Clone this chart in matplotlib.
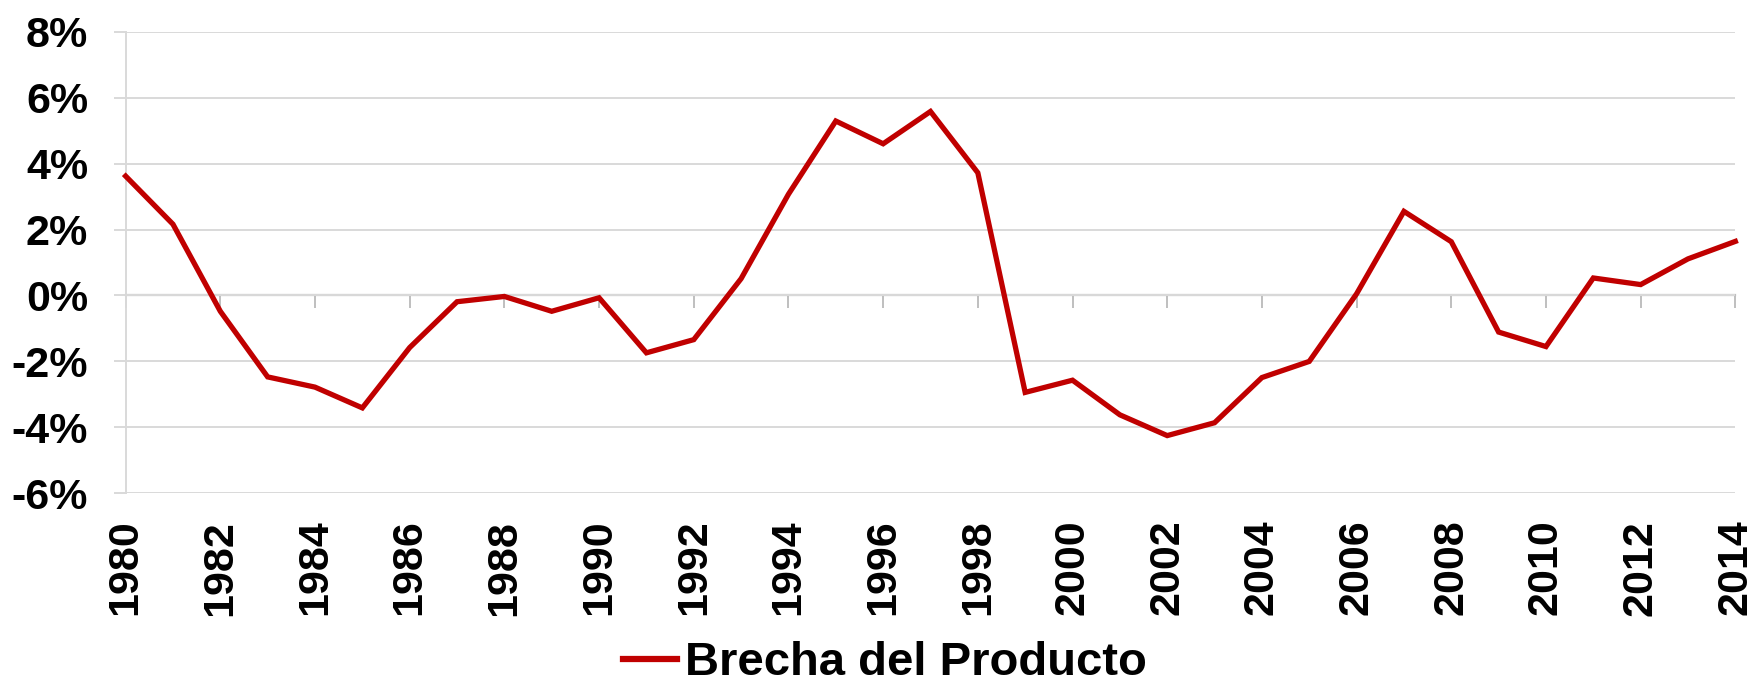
import numpy as np
import matplotlib
matplotlib.use('Agg')
import matplotlib.pyplot as plt
from matplotlib.ticker import FuncFormatter

plt.rcParams['font.family'] = ['Liberation Sans', 'DejaVu Sans']
plt.rcParams['font.weight'] = 'bold'

# Data: output gap (% of potential GDP)
years = list(range(1980, 2015))
gap = [3.62, 2.16, -0.48, -2.47, -2.78, -3.41, -1.58, -0.19, -0.03, -0.48,
       -0.07, -1.74, -1.34, 0.51, 3.07, 5.29, 4.60, 5.58, 3.72, -2.94,
       -2.57, -3.62, -4.25, -3.86, -2.49, -2.00, 0.05, 2.55, 1.63, -1.11,
       -1.55, 0.53, 0.33, 1.11, 1.64]
year_ticks = list(range(1980, 2015, 2))
pct_ticks = [-6, -4, -2, 0, 2, 4, 6, 8]
series_name = 'Brecha del Producto'

red = '#c00000'
grid_gray = '#d9d9d9'
axis_gray = '#bfbfbf'

fig = plt.figure(figsize=(17.52, 6.84), dpi=100)
ax = fig.add_axes([0.0717, 0.2788, 0.9188, 0.6749])

line, = ax.plot(years, gap, color=red, lw=3.8, solid_joinstyle='miter',
                clip_on=False, zorder=3)

ax.set_xlim(1980, 2014)
ax.set_ylim(-6, 8)

# y axis
ax.set_yticks(pct_ticks)
ax.yaxis.set_major_formatter(FuncFormatter(lambda v, p: f'{int(round(v))}%'))
ax.yaxis.grid(True, color=grid_gray, lw=1.4)
ax.set_axisbelow(True)
ax.tick_params(axis='y', length=9, width=1.4, color=grid_gray, pad=18,
               labelsize=31)

# x axis labels at bottom, no tick marks
ax.set_xticks(year_ticks)
ax.tick_params(axis='x', length=0, pad=19, labelsize=31, labelrotation=90)

for s in ['top', 'right', 'bottom']:
    ax.spines[s].set_visible(False)
ax.spines['left'].set_color(grid_gray)
ax.spines['left'].set_linewidth(1.4)

# horizontal axis line with tick marks at 0%
sec = ax.secondary_xaxis(0, transform=ax.transData)
sec.set_xticks(year_ticks)
sec.tick_params(axis='x', direction='out', length=9, width=1.4,
                color=axis_gray, labelbottom=False)
sec.spines['bottom'].set_color(axis_gray)
sec.spines['bottom'].set_linewidth(1.6)

for lab in ax.get_xticklabels() + ax.get_yticklabels():
    lab.set_fontweight('bold')

leg = fig.legend([line], [series_name], loc='center', bbox_to_anchor=(0.505, 0.03),
                 frameon=False, handlelength=1.15, handletextpad=0.15,
                 prop={'size': 34, 'weight': 'bold'})
leg.get_lines()[0].set_linewidth(4.5)

fig.savefig('out.png', dpi=100)
